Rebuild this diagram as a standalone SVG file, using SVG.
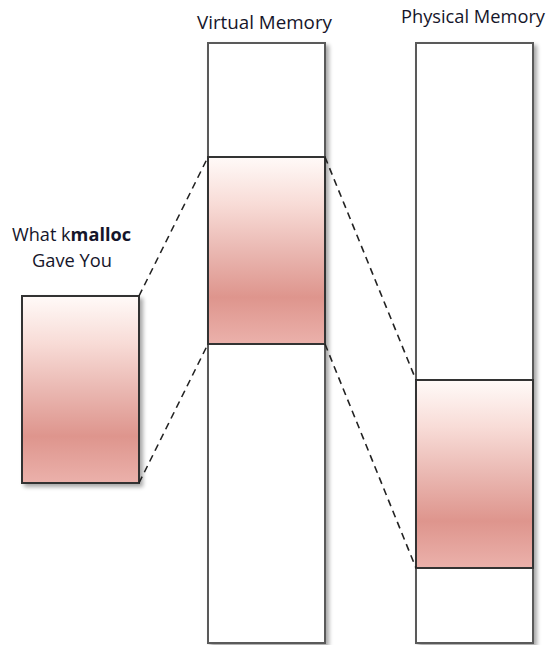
<svg xmlns="http://www.w3.org/2000/svg" width="550" height="645" viewBox="0 0 550 645">
<defs>
<linearGradient id="pink" x1="0" y1="0" x2="0" y2="1">
<stop offset="0" stop-color="#fffaf8"/>
<stop offset="0.25" stop-color="#f8dcd7"/>
<stop offset="0.5" stop-color="#eab8b2"/>
<stop offset="0.75" stop-color="#de958d"/>
<stop offset="1" stop-color="#ebb1ab"/>
</linearGradient>
<filter id="sh" x="-10%" y="-5%" width="125%" height="115%">
<feGaussianBlur in="SourceAlpha" stdDeviation="2"/>
<feOffset dx="3" dy="3"/>
<feComponentTransfer><feFuncA type="linear" slope="0.35"/></feComponentTransfer>
<feMerge><feMergeNode/><feMergeNode in="SourceGraphic"/></feMerge>
</filter>
</defs>
<style>
.col{fill:#fff;stroke:#5a5a5a;stroke-width:2}
.blk{fill:url(#pink);stroke:#333;stroke-width:2}
.dash{stroke:#222;stroke-width:1.6;stroke-dasharray:7,5;fill:none}
.lbl{font-family:"Open Sans","Liberation Sans",sans-serif;font-size:17.5px;fill:#15152a}
</style>
<rect width="550" height="645" fill="#fff"/>
<g id="virtual-memory">
<rect class="col" x="208" y="43" width="117" height="600" filter="url(#sh)"/>
<rect class="blk" x="208" y="157" width="117" height="187"/>
<text class="lbl" x="197" y="29" textLength="135" lengthAdjust="spacingAndGlyphs">Virtual Memory</text>
</g>
<g id="physical-memory">
<rect class="col" x="416" y="43" width="117" height="600" filter="url(#sh)"/>
<rect class="blk" x="416" y="380" width="117" height="188"/>
<text class="lbl" x="401" y="23" textLength="144" lengthAdjust="spacingAndGlyphs">Physical Memory</text>
</g>
<g id="kmalloc">
<rect class="blk" x="22" y="296" width="117" height="187" filter="url(#sh)"/>
<text class="lbl" x="12" y="241" textLength="119" lengthAdjust="spacingAndGlyphs">What k<tspan font-weight="bold">malloc</tspan></text>
<text class="lbl" x="32" y="267" textLength="80" lengthAdjust="spacingAndGlyphs">Gave You</text>
</g>
<g id="connectors">
<line class="dash" x1="139" y1="296" x2="208" y2="157"/>
<line class="dash" x1="139" y1="483" x2="208" y2="344"/>
<line class="dash" x1="325" y1="157" x2="416" y2="380"/>
<line class="dash" x1="325" y1="344" x2="416" y2="568"/>
</g>
</svg>
